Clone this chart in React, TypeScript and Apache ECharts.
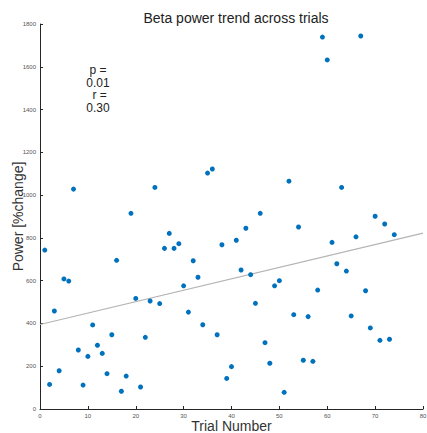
import React, { useEffect, useRef } from "react";
import * as echarts from "echarts";

const trials = [
  1, 2, 3, 4, 5, 6, 7, 8, 9, 10, 11, 12, 13, 14, 15, 16, 17, 18, 19, 20, 21, 22, 23, 24, 25,
  26, 27, 28, 29, 30, 31, 32, 33, 34, 35, 36, 37, 38, 39, 40, 41, 42, 43, 44, 45, 46, 47, 48, 49, 50,
  51, 52, 53, 54, 55, 56, 57, 58, 59, 60, 61, 62, 63, 64, 65, 66, 67, 68, 69, 70, 71, 72, 73, 74,
];
const power = [
  743, 115, 458, 179, 608, 598, 1028, 276, 112, 246, 393, 298, 260, 165, 347, 695, 83, 154, 915, 517,
  103, 335, 505, 1036, 493, 751, 821, 751, 773, 576, 453, 693, 616, 394, 1103, 1122, 347, 768, 143, 198,
  789, 650, 845, 628, 494, 915, 310, 214, 576, 600, 78, 1065, 441, 851, 228, 432, 223, 556, 1739, 1632,
  779, 679, 1036, 645, 435, 805, 1744, 553, 379, 901, 321, 865, 326, 815,
];
const trendX = [0, 80];
const trendY = [395, 822];
const xTicks = [0, 80, 10];
const yTicks = [0, 1800, 200];
const titleText = "Beta power trend across trials";
const statsText = "p =\n0.01\n r =\n0.30";

const FONT = "'Liberation Sans', Arial, Helvetica, sans-serif";

export default function App() {
  const ref = useRef<HTMLDivElement>(null);
  useEffect(() => {
    if (!ref.current) return;
    const chart = echarts.init(ref.current, undefined, { renderer: "svg" });
    chart.setOption({
      animation: false,
      backgroundColor: "#ffffff",
      textStyle: { fontFamily: FONT },
      title: {
        text: titleText,
        left: 231,
        top: 6,
        textAlign: "center",
        textStyle: { fontSize: 14, fontWeight: "normal", color: "#222", fontFamily: FONT },
      },
      grid: { left: 40, right: 4, top: 24, bottom: 24, containLabel: false, outerBoundsMode: "none" },
      xAxis: {
        type: "value",
        min: xTicks[0],
        max: xTicks[1],
        interval: xTicks[2],
        name: "Trial Number",
        nameLocation: "middle",
        nameGap: 10,
        nameMoveOverlap: false,
        nameTextStyle: { fontSize: 14, color: "#333", fontFamily: FONT },
        axisLine: { show: true, lineStyle: { color: "#262626", width: 1 } },
        axisTick: { show: true, inside: true, length: 3, lineStyle: { color: "#262626" } },
        axisLabel: { fontSize: 6, color: "#555", margin: 4, fontFamily: FONT, formatter: (v: number) => String(v) },
        splitLine: { show: false },
      },
      yAxis: {
        type: "value",
        min: yTicks[0],
        max: yTicks[1],
        interval: yTicks[2],
        name: "Power [%change]",
        nameLocation: "middle",
        nameGap: 15,
        nameMoveOverlap: false,
        nameTextStyle: { fontSize: 14, color: "#333", fontFamily: FONT },
        axisLine: { show: true, lineStyle: { color: "#262626", width: 1 } },
        axisTick: { show: true, inside: true, length: 3, lineStyle: { color: "#262626" } },
        axisLabel: { fontSize: 6, color: "#555", margin: 4, fontFamily: FONT, formatter: (v: number) => String(v) },
        splitLine: { show: false },
      },
      graphic: [
        {
          type: "text",
          x: 98,
          y: 64,
          style: {
            text: statsText,
            fontSize: 12,
            lineHeight: 12.5,
            fill: "#222",
            textAlign: "center",
            fontFamily: FONT,
          },
        },
      ],
      series: [
        {
          type: "line",
          data: trendX.map((x, i) => [x, trendY[i]]),
          showSymbol: false,
          symbol: "none",
          lineStyle: { color: "#b4b4b4", width: 1.2 },
          z: 1,
        },
        {
          type: "scatter",
          data: trials.map((t, i) => [t, power[i]]),
          symbolSize: 5,
          itemStyle: { color: "#0072BD", opacity: 1 },
          z: 2,
        },
      ],
    });
    return () => chart.dispose();
  }, []);
  return (
    <div
      ref={ref}
      style={{ position: "fixed", left: 0, top: 0, width: 427, height: 433 }}
    />
  );
}
